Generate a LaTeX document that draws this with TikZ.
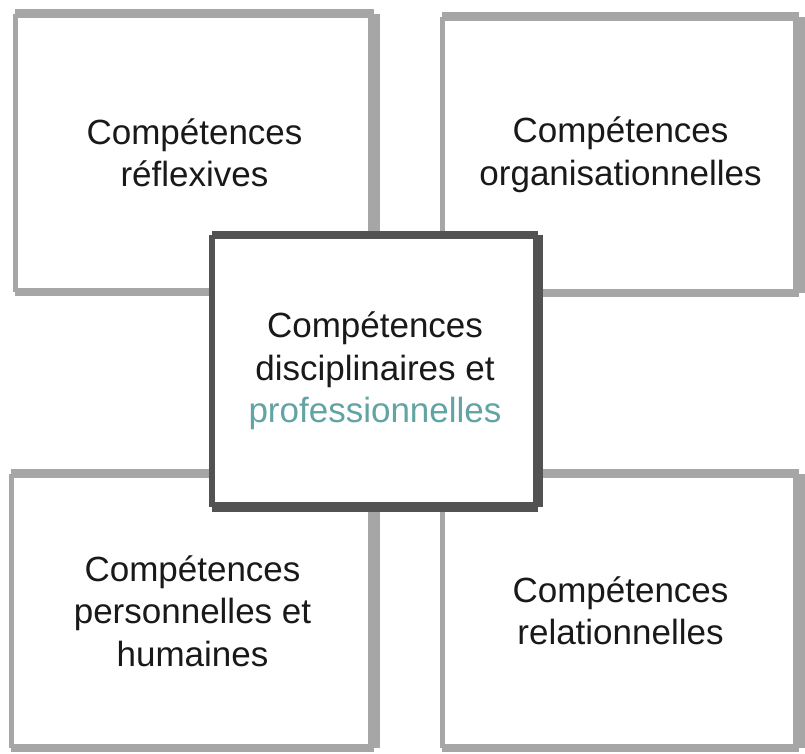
\documentclass[tikz,border=0pt]{standalone}
\usepackage{fontspec}
\setmainfont{Liberation Sans}
\definecolor{edgegrey}{RGB}{166,166,166}
\definecolor{edgedark}{RGB}{82,82,82}
\definecolor{tealtext}{RGB}{98,163,163}
\begin{document}
\begin{tikzpicture}[x=1pt,y=1pt,
  skill/.style={fill=white, inner sep=0pt, outer sep=0pt, align=center, text=black!90, font=\fontsize{35}{42.5}\selectfont}]
  \useasboundingbox (0,0) rectangle (805,754);
  \node[skill, minimum width=359pt, minimum height=278pt] (reflex) at (194.5,601) {Compétences\\réflexives};
  \node[skill, minimum width=357pt, minimum height=276pt] (organ) at (620.5,599) {Compétences\\organisationnelles};
  \node[skill, minimum width=363pt, minimum height=274pt] (person) at (192.5,143) {Compétences\\personnelles et\\humaines};
  \node[skill, minimum width=357pt, minimum height=274pt] (relat) at (620.5,143) {Compétences\\relationnelles};
  \foreach \n in {reflex,organ,person,relat} {
    \draw[edgegrey, line width=9pt, line cap=square] (\n.north west) -- (\n.north east);
    \draw[edgegrey, line width=12pt, line cap=square] (\n.north east) -- (\n.south east);
    \draw[edgegrey, line width=8pt, line cap=square] (\n.south east) -- (\n.south west);
    \draw[edgegrey, line width=5pt, line cap=square] (\n.south west) -- (\n.north west);
  }
  % central box on top
  \node[skill, minimum width=326pt, minimum height=272pt] (discip) at (375,383) {Compétences\\disciplinaires et\\\textcolor{tealtext}{professionnelles}};
  \draw[edgedark, line width=8pt, line cap=square] (discip.north west) -- (discip.north east);
  \draw[edgedark, line width=10pt, line cap=square] (discip.north east) -- (discip.south east);
  \draw[edgedark, line width=10pt, line cap=square] (discip.south east) -- (discip.south west);
  \draw[edgedark, line width=6pt, line cap=square] (discip.south west) -- (discip.north west);
\end{tikzpicture}
\end{document}
